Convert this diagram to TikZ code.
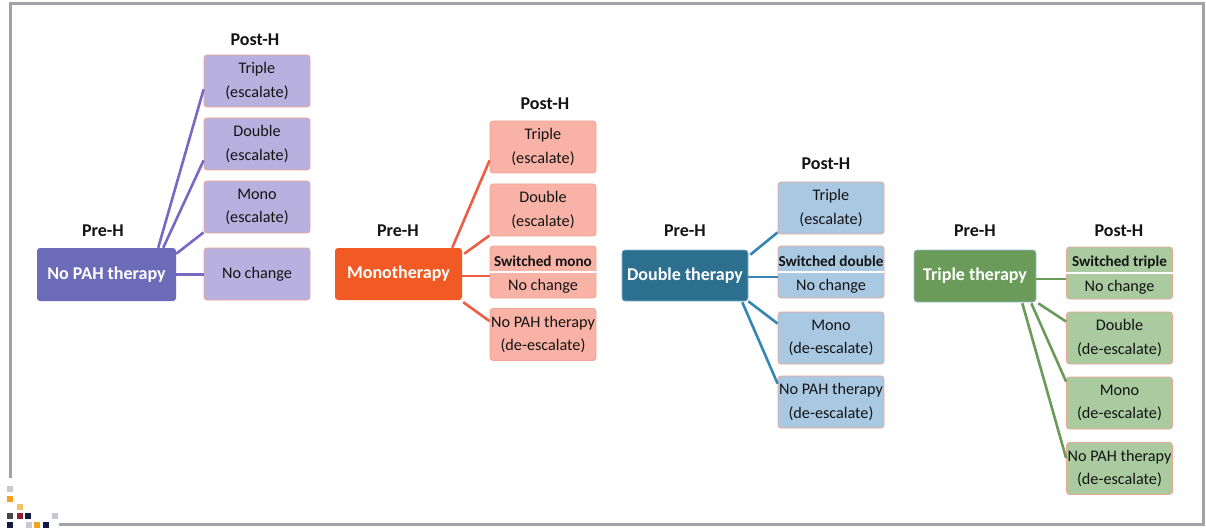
\documentclass[tikz,border=0pt]{standalone}
\usepackage{fontspec}
\setmainfont{Carlito}
\usetikzlibrary{calc}
\definecolor{framegray}{HTML}{A2A2A8}
\definecolor{textdark}{HTML}{141414}
\definecolor{boxborder}{HTML}{EFA593}
\definecolor{purpleM}{HTML}{6C6BB8}
\definecolor{purpleL}{HTML}{B8B0DF}
\definecolor{purpleC}{HTML}{7868C4}
\definecolor{orangeM}{HTML}{F15A24}
\definecolor{orangeL}{HTML}{F8B2A6}
\definecolor{orangeC}{HTML}{EA5E45}
\definecolor{blueM}{HTML}{2C6F8F}
\definecolor{blueL}{HTML}{A9C9E3}
\definecolor{blueC}{HTML}{3585B5}
\definecolor{greenM}{HTML}{6A9B58}
\definecolor{greenL}{HTML}{A9CB9F}
\definecolor{greenC}{HTML}{6A9B58}
\definecolor{sqlight}{HTML}{C8C8D2}
\definecolor{sqorange}{HTML}{F4A020}
\definecolor{sqlorange}{HTML}{F7C06A}
\definecolor{sqdark}{HTML}{45454D}
\definecolor{sqred}{HTML}{9B1B30}
\definecolor{sqnavy}{HTML}{141A42}
\begin{document}
\begin{tikzpicture}[x=1pt,y=-1pt,
  mainbox/.style={rounded corners=3pt, inner sep=0pt, text=white, font=\bfseries\fontsize{18}{20}\selectfont},
  postbox/.style={draw=boxborder, line width=0.8pt, rounded corners=3pt, minimum width=106pt, minimum height=52pt, inner sep=0pt, align=center, font=\fontsize{16.2}{23.5}\selectfont, text=textdark},
  headlbl/.style={font=\bfseries\fontsize{18}{20}\selectfont, text=textdark, inner sep=0pt},
  boldtxt/.style={font=\bfseries\fontsize{15.2}{18}\selectfont, text=textdark, inner sep=0pt},
  plaintxt/.style={font=\fontsize{16.2}{18}\selectfont, text=textdark, inner sep=0pt},
  conn/.style={line width=2.6pt},
  sq/.style={minimum size=6pt, inner sep=0pt}
]
\useasboundingbox (0,0) rectangle (1206,529);
\fill[white] (0,0) rectangle (1206,529);
% frame
\draw[framegray, line width=3pt] (10,478) -- (10,4) -- (1203,4) -- (1203,524) -- (59,524);
% decoration squares
\node[sq, fill=sqlight]   (s1) at (10,489) {};
\node[sq, fill=sqorange]  (s2) at (10,499) {};
\node[sq, fill=sqlorange] (s3) at (20,507) {};
\node[sq, fill=sqdark]    (s4) at (10,516) {};
\node[sq, fill=sqred]     (s5) at (20,516) {};
\node[sq, fill=sqnavy]    (s6) at (28,516) {};
\node[sq, fill=sqlight]   (s7) at (55,516) {};
\node[sq, fill=sqnavy]    (s8) at (10,525) {};
\node[sq, fill=sqlight]   (s9) at (29,525) {};
\node[sq, fill=sqorange]  (s10) at (37,525) {};
\node[sq, fill=sqnavy]    (s11) at (46,525) {};

% ---------- Group 1 ----------
\node[headlbl] (pre1) at (103,231) {Pre-H};
\node[headlbl] (post1) at (255,40) {Post-H};
\node[mainbox, fill=purpleM, minimum width=139pt, minimum height=53pt] (m1) at (106.5,274.5) {No PAH therapy};
\node[postbox, fill=purpleL] (p1a) at (257,81) {Triple\\(escalate)};
\node[postbox, fill=purpleL] (p1b) at (257,144) {Double\\(escalate)};
\node[postbox, fill=purpleL] (p1c) at (257,207) {Mono\\(escalate)};
\node[postbox, fill=purpleL] (p1d) at (257,274) {No change};
\begin{scope}[purpleC, conn]
\draw ($(m1.north east)+(-18,0)$) -- ($(p1a.south west)+(0,-18)$);
\draw ($(m1.north east)+(-13,0)$) -- ($(p1b.south west)+(0,-10)$);
\draw ($(m1.north east)+(0,6)$) -- ($(p1c.south west)+(0,-1)$);
\draw (m1.east) -- (m1.east -| p1d.west);
\end{scope}

% ---------- Group 2 ----------
\node[headlbl] (pre2) at (398,231) {Pre-H};
\node[headlbl] (post2) at (545,104) {Post-H};
\node[mainbox, fill=orangeM, minimum width=127pt, minimum height=52pt] (m2) at (398.5,274) {Monotherapy};
\node[postbox, fill=orangeL] (p2a) at (543,147) {Triple\\(escalate)};
\node[postbox, fill=orangeL] (p2b) at (543,210) {Double\\(escalate)};
\node[postbox, fill=orangeL] (p2c) at (543,272) {};
\node[postbox, fill=orangeL] (p2d) at (543,334.5) {No PAH therapy\\(de-escalate)};
\draw[white, line width=2pt] (p2c.west) -- (p2c.east);
\node[boldtxt] (p2ct) at ($(p2c.center)+(0,-11)$) {Switched mono};
\node[plaintxt] (p2cb) at ($(p2c.center)+(0,14)$) {No change};
\begin{scope}[orangeC, conn]
\draw ($(m2.north east)+(-10,0)$) -- ($(p2a.south west)+(0,-13)$);
\draw ($(m2.north east)+(2,6)$) -- ($(p2b.south west)+(0,-1)$);
\draw ($(m2.east)+(0,2)$) -- ($(m2.east -| p2c.west)+(0,2)$);
\draw ($(m2.south east)+(1,2)$) -- ($(p2d.north west)+(0,13)$);
\end{scope}

% ---------- Group 3 ----------
\node[headlbl] (pre3) at (685,231) {Pre-H};
\node[headlbl] (post3) at (826,164) {Post-H};
\node[mainbox, fill=blueM, draw=blueC!60, line width=0.6pt, minimum width=126pt, minimum height=51pt] (m3) at (685,275.5) {Double therapy};
\node[postbox, fill=blueL] (p3a) at (831,208) {Triple\\(escalate)};
\node[postbox, fill=blueL] (p3b) at (831,272) {};
\node[postbox, fill=blueL] (p3c) at (831,338) {Mono\\(de-escalate)};
\node[postbox, fill=blueL] (p3d) at (831,402) {No PAH therapy\\(de-escalate)};
\draw[white, line width=2pt] (p3b.west) -- (p3b.east);
\node[boldtxt] (p3bt) at ($(p3b.center)+(0,-11)$) {Switched double};
\node[plaintxt] (p3bb) at ($(p3b.center)+(0,14)$) {No change};
\begin{scope}[blueC, conn]
\draw ($(m3.north east)+(2,5)$) -- ($(p3a.south west)+(0,-2)$);
\draw ($(m3.east)+(0,1.5)$) -- ($(m3.east -| p3b.west)+(0,1.5)$);
\draw ($(m3.south east)+(0,0)$) -- ($(p3c.north west)+(0,12)$);
\draw ($(m3.south east)+(-6,1)$) -- ($(p3d.north west)+(0,8)$);
\end{scope}

% ---------- Group 4 ----------
\node[headlbl] (pre4) at (975,231) {Pre-H};
\node[headlbl] (post4) at (1119,231) {Post-H};
\node[mainbox, fill=greenM, draw=blueC!50, line width=0.6pt, minimum width=122pt, minimum height=52pt] (m4) at (975,276) {Triple therapy};
\node[postbox, fill=greenL] (p4a) at (1119.5,273) {};
\node[postbox, fill=greenL] (p4b) at (1119.5,338) {Double\\(de-escalate)};
\node[postbox, fill=greenL] (p4c) at (1119.5,403) {Mono\\(de-escalate)};
\node[postbox, fill=greenL] (p4d) at (1119.5,468.5) {No PAH therapy\\(de-escalate)};
\draw[white, line width=2pt] (p4a.west) -- (p4a.east);
\node[boldtxt] (p4at) at ($(p4a.center)+(0,-11)$) {Switched triple};
\node[plaintxt] (p4ab) at ($(p4a.center)+(0,14)$) {No change};
\begin{scope}[greenC, conn]
\draw ($(m4.east)+(0,3)$) -- ($(m4.east -| p4a.west)+(0,3)$);
\draw ($(m4.south east)+(2,1)$) -- ($(p4b.north west)+(0,10)$);
\draw ($(m4.south east)+(-5,1)$) -- ($(p4c.north west)+(0,5)$);
\draw ($(m4.south east)+(-14,1)$) -- ($(p4d.north west)+(0,16)$);
\end{scope}
\end{tikzpicture}
\end{document}
